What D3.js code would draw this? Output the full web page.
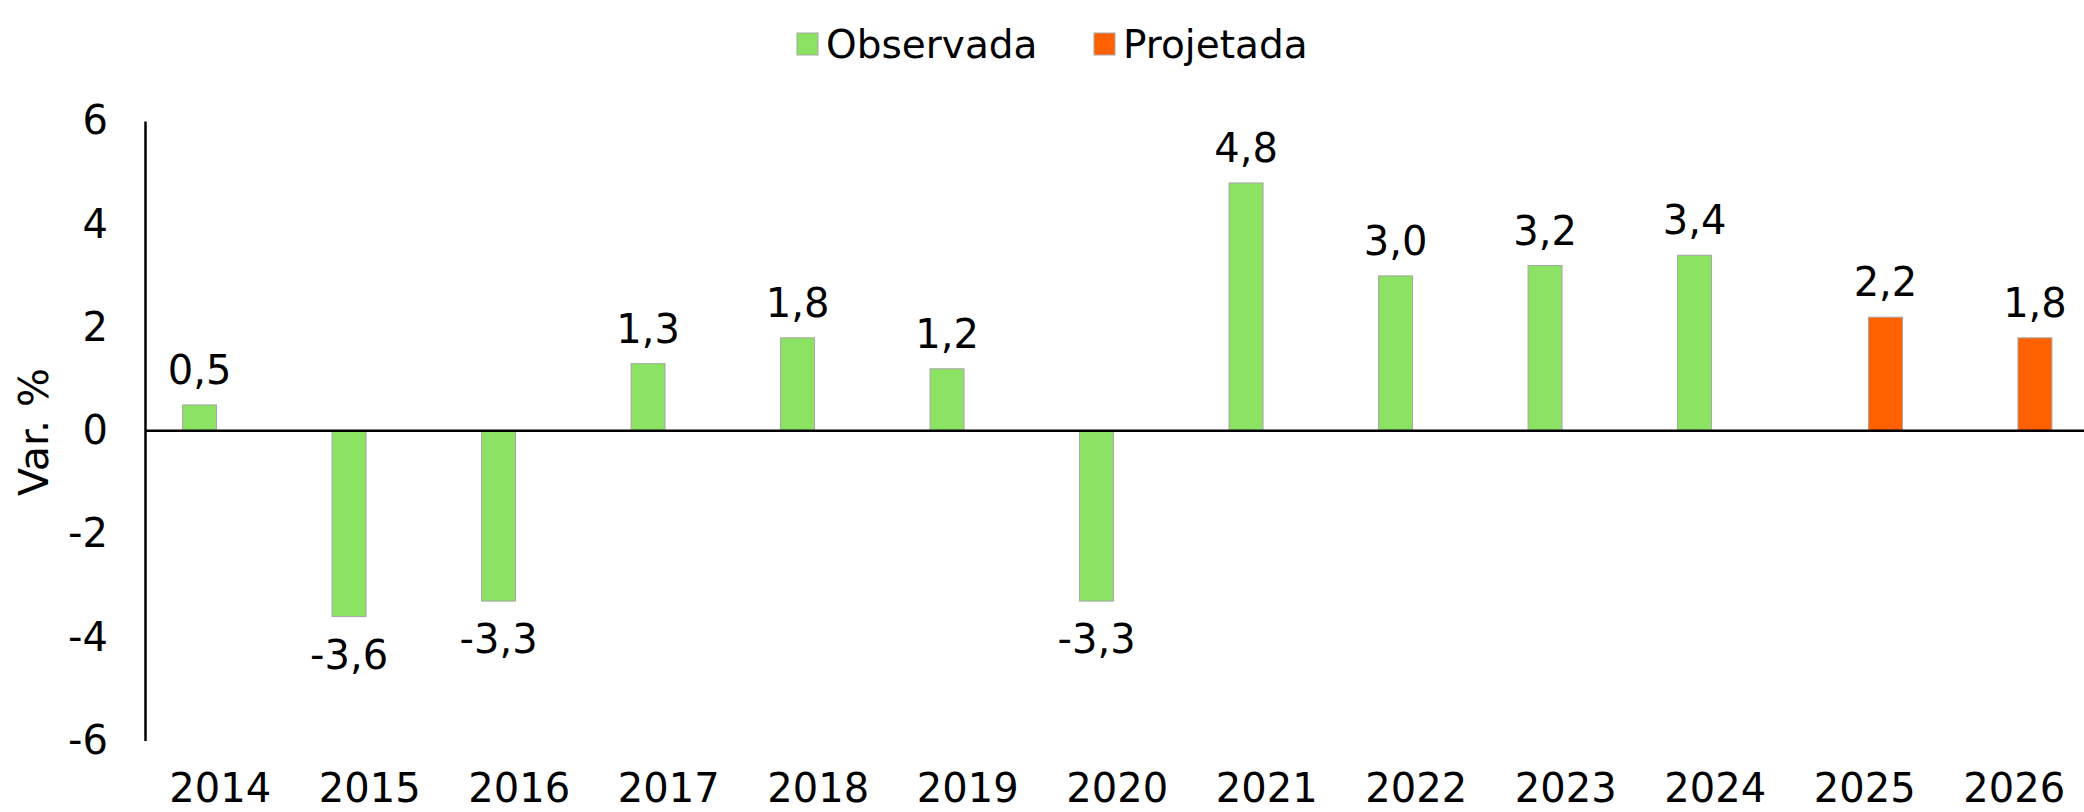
<!DOCTYPE html>
<html>
<head>
<meta charset="utf-8">
<script src="https://cdn.jsdelivr.net/npm/d3@7"></script>
<style>
  html, body { margin:0; padding:0; background:#fff; }
  svg { display:block; font-family:"DejaVu Sans", Verdana, sans-serif; }
</style>
</head>
<body>
<script>
let years = ["2014","2015","2016","2017","2018","2019","2020","2021","2022","2023","2024","2025","2026"];
let observada = [0.5,-3.6,-3.3,1.3,1.8,1.2,-3.3,4.8,3.0,3.2,3.4,null,null];
let projetada = [null,null,null,null,null,null,null,null,null,null,null,2.2,1.8];
let seriesNames = ["Observada","Projetada"];
let yTicks = [-6,-4,-2,0,2,4,6];

let colors = ["#8ce363","#ff6100"];

let width = 2084, height = 812;
let svg = d3.select("body").append("svg").attr("width",width).attr("height",height);

let fmt = d3.formatLocale({decimal:",",thousands:".",grouping:[3],currency:["",""],minus:"-"}).format(".1f");

let x = d3.scaleBand()
          .domain(years)
          .range([145.5,2089])
          .paddingInner(0.496)
          .paddingOuter(0.248);

let xSub = d3.scaleBand()
          .domain(seriesNames)
          .range([0,x.bandwidth()])
          .paddingInner(0.179);

let y = d3.scaleLinear()
          .domain([-6,6])
          .range([740.5,121]);

// y axis
let yAxis = d3.axisLeft(y).tickValues(yTicks).tickSize(0).tickSizeOuter(0).tickPadding(37).tickFormat(d3.format("d"));
let yG = svg.append("g").attr("transform","translate(145,0)").call(yAxis);
yG.select(".domain").attr("stroke","#000").attr("stroke-width",2.5);
yG.selectAll("text").attr("font-size",40).attr("fill","#000").attr("font-family","DejaVu Sans").text(d=>d<0?"-"+Math.abs(d):d);

// x axis labels
let xAxis = d3.axisBottom(x).tickSize(0).tickPadding(33);
let xG = svg.append("g").attr("transform","translate(0,741)").call(xAxis);
xG.select(".domain").remove();
xG.selectAll("text").attr("font-size",40).attr("fill","#000").attr("font-family","DejaVu Sans");

// axis title
svg.append("text")
   .attr("transform","translate(48,432) rotate(-90)")
   .attr("text-anchor","middle")
   .attr("font-size",41)
   .text("Var. %");

// bars
let allSeries = [observada,projetada];
allSeries.forEach((vals,s)=>{
  let pts = years.map((yr,i)=>({yr:yr,v:vals[i]})).filter(d=>d.v!==null);
  let g = svg.append("g");
  g.selectAll("rect")
   .data(pts)
   .enter().append("rect")
   .attr("x",d=>x(d.yr)+xSub(seriesNames[s]))
   .attr("width",xSub.bandwidth())
   .attr("y",d=>y(Math.max(0,d.v)))
   .attr("height",d=>Math.abs(y(d.v)-y(0)))
   .attr("fill",colors[s])
   .attr("stroke","#a6a6a6")
   .attr("stroke-width",1);
  g.selectAll("text")
   .data(pts)
   .enter().append("text")
   .attr("x",d=>x(d.yr)+xSub(seriesNames[s])+xSub.bandwidth()/2)
   .attr("y",d=>d.v>=0 ? y(d.v)-21 : y(d.v)+52)
   .attr("text-anchor","middle")
   .attr("font-size",40)
   .text(d=>fmt(d.v));
});

// zero line
svg.append("line")
   .attr("x1",145).attr("x2",x.range()[1])
   .attr("y1",y(0)).attr("y2",y(0))
   .attr("stroke","#000").attr("stroke-width",2.5);

// legend
let legend = svg.append("g").attr("transform","translate(797,0)");
let lx = [0,297];
seriesNames.forEach((n,i)=>{
  legend.append("rect").attr("x",lx[i]).attr("y",33).attr("width",21).attr("height",22)
        .attr("fill",colors[i]).attr("stroke","#a6a6a6").attr("stroke-width",1);
  legend.append("text").attr("x",lx[i]+29).attr("y",58).attr("font-size",39).text(n);
});
</script>
</body>
</html>
